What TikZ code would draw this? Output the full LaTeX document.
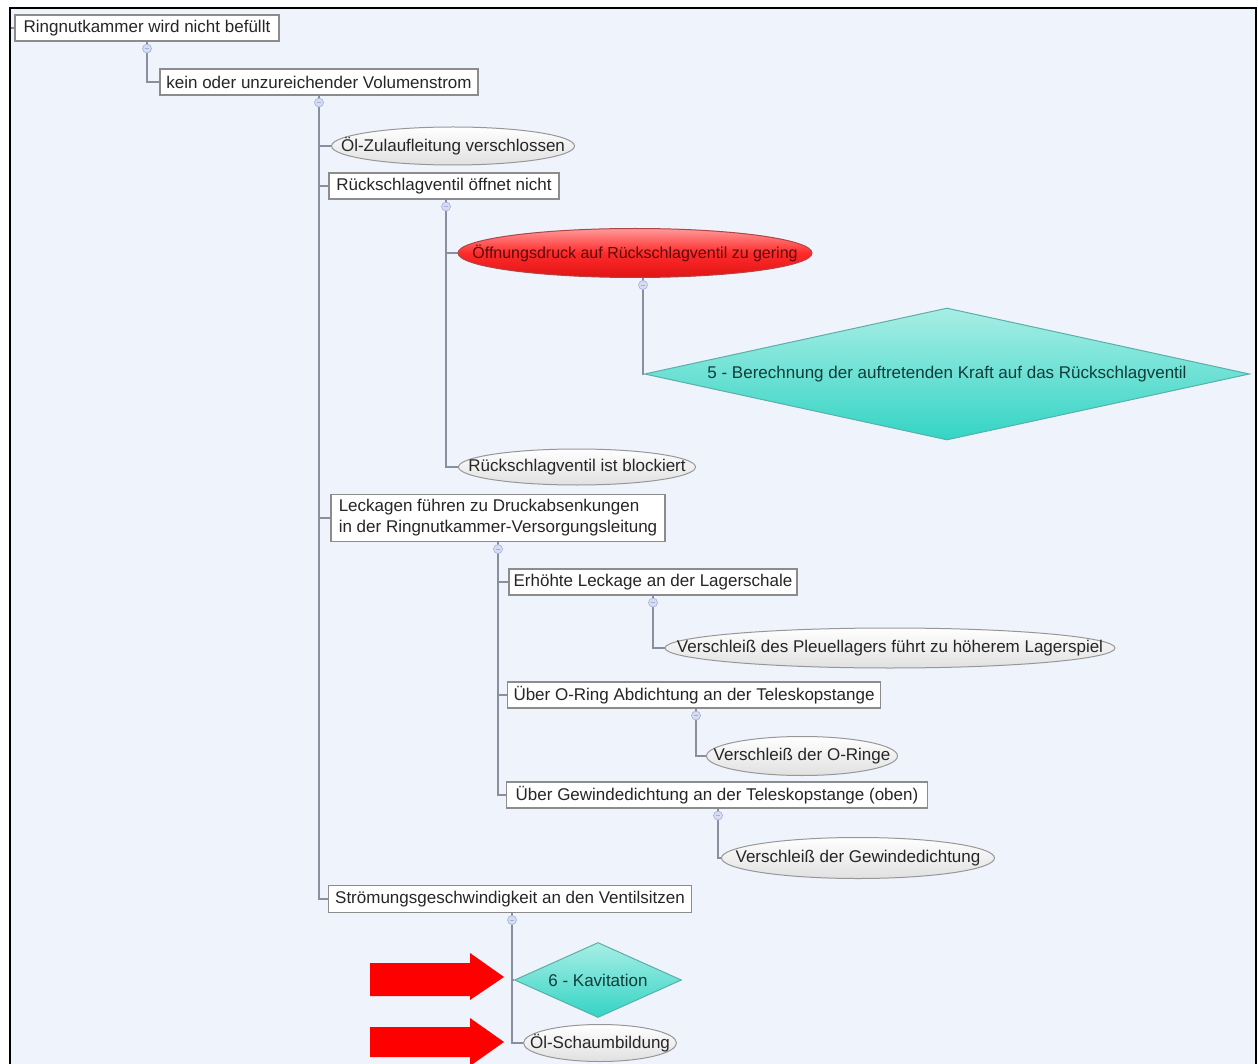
\documentclass[tikz,border=0pt]{standalone}
\usepackage{fontspec}
\setmainfont{Liberation Sans}
\usetikzlibrary{shapes.geometric}
\pgfdeclarelayer{bglayer}
\pgfdeclarelayer{connlayer}
\pgfsetlayers{bglayer,connlayer,main}
\definecolor{bgblue}{HTML}{EFF3FC}
\definecolor{lineg}{HTML}{8A8FA0}
\definecolor{boxg}{HTML}{8C8C8C}
\definecolor{btnfill}{HTML}{D6DDF2}
\definecolor{btndraw}{HTML}{A4B0D6}
\definecolor{turqtop}{HTML}{A8EEE5}
\definecolor{turqbot}{HTML}{33D4C4}
\definecolor{turqdraw}{HTML}{5AAFA8}
\definecolor{redtop}{HTML}{FF9A9A}
\definecolor{redmid}{HTML}{FF2A2A}
\definecolor{redbot}{HTML}{E01515}
\definecolor{reddraw}{HTML}{B04545}
\definecolor{redtext}{HTML}{5A0A0A}
\definecolor{turqtext}{HTML}{123C3A}
\definecolor{arrred}{HTML}{FF0000}
\tikzset{
  every node/.style={font=\fontsize{17}{21}\selectfont, text=black!85},
  rectbox/.style={draw=boxg, line width=1.2pt, fill=white, rectangle, inner sep=3pt, align=left},
  ellbox/.style={draw=boxg!90, line width=1pt, ellipse, inner sep=0pt, top color=white, bottom color=black!12},
  redell/.style={draw=reddraw, line width=1pt, ellipse, inner sep=0pt, top color=redtop, bottom color=redbot, middle color=redmid, text=redtext, font=\fontsize{16}{19}\selectfont},
  turqdia/.style={draw=turqdraw, line width=1pt, diamond, inner sep=0pt, top color=turqtop, bottom color=turqbot, text=turqtext},
  conn/.style={draw=lineg, line width=1.4pt},
  btn/.style={circle, draw=btndraw, fill=btnfill, line width=0.6pt, minimum size=9pt, inner sep=0pt},
  redarrow/.style={fill=arrred, draw=none}
}
\newcommand{\zw}[1]{\makebox[0pt]{#1}}
\begin{document}
\begin{tikzpicture}[x=1pt,y=-1pt]
\useasboundingbox (0,0) rectangle (1258,1064);
\begin{pgfonlayer}{bglayer}
\fill[white] (0,0) rectangle (1258,1064);
\fill[bgblue] (10,8) rectangle (1256,1068);
\draw[black, line width=2.6pt] (10,1070) -- (10,8) -- (1256,8) -- (1256,1070);
\end{pgfonlayer}

% nodes
\node[rectbox, minimum width=264, minimum height=26] (n1) at (147,28) {Ringnutkammer wird nicht befüllt};
\node[rectbox, minimum width=318, minimum height=26] (n2) at (319,82) {kein oder unzureichender Volumenstrom};
\node[ellbox, minimum width=243, minimum height=38] (n3) at (453,146) {\zw{Öl-Zulaufleitung verschlossen}};
\node[rectbox, minimum width=230, minimum height=26] (n4) at (444,186) {Rückschlagventil öffnet nicht};
\node[redell, minimum width=354, minimum height=49] (n5) at (635,253) {\zw{Öffnungsdruck auf Rückschlagventil zu gering}};
\node[turqdia, minimum width=605, minimum height=132] (n6) at (947,374) {\zw{5 - Berechnung der auftretenden Kraft auf das Rückschlagventil}};
\node[ellbox, minimum width=237, minimum height=36] (n7) at (577,467) {\zw{Rückschlagventil ist blockiert}};
\node[rectbox, minimum width=334, minimum height=47] (n8) at (498,518) {Leckagen führen zu Druckabsenkungen\\in der Ringnutkammer-Versorgungsleitung};
\node[rectbox, minimum width=288, minimum height=26] (n9) at (653,582) {Erhöhte Leckage an der Lagerschale};
\node[ellbox, minimum width=450, minimum height=40] (n10) at (890,648) {\zw{Verschleiß des Pleuellagers führt zu höherem Lagerspiel}};
\node[rectbox, minimum width=373, minimum height=26] (n11) at (694,695) {Über O-Ring Abdichtung an der Teleskopstange};
\node[ellbox, minimum width=191, minimum height=39] (n12) at (802,756) {\zw{Verschleiß der O-Ringe}};
\node[rectbox, minimum width=421, minimum height=26] (n13) at (717,795) {Über Gewindedichtung an der Teleskopstange (oben)};
\node[ellbox, minimum width=273, minimum height=41] (n14) at (858,858) {\zw{Verschleiß der Gewindedichtung}};
\node[rectbox, minimum width=363, minimum height=27] (n15) at (510,899) {Strömungsgeschwindigkeit an den Ventilsitzen};
\node[turqdia, minimum width=167, minimum height=75] (n16) at (598,980) {\zw{6 - Kavitation}};
\node[ellbox, minimum width=153, minimum height=37] (n17) at (600,1043) {\zw{Öl-Schaumbildung}};

% connectors
\coordinate (stub) at (11,28);
\begin{pgfonlayer}{connlayer}
\draw[conn] (stub) -- (n1.west);
\draw[conn] (n1.south) |- (n2.west);
\draw[conn] (n2.south) |- (n3.west);
\draw[conn] (n2.south) |- (n4.west);
\draw[conn] (n2.south) |- (n8.west);
\draw[conn] (n2.south) |- (n15.west);
\draw[conn] ([xshift=2pt]n4.south) |- (n5.west);
\draw[conn] ([xshift=2pt]n4.south) |- (n7.west);
\draw[conn] ([xshift=8pt]n5.south) |- (n6.west);
\draw[conn] (n8.south) |- (n9.west);
\draw[conn] (n8.south) |- (n11.west);
\draw[conn] (n8.south) |- (n13.west);
\draw[conn] (n9.south) |- (n10.west);
\draw[conn] ([xshift=2pt]n11.south) |- (n12.west);
\draw[conn] ([xshift=1pt]n13.south) |- (n14.west);
\draw[conn] ([xshift=2pt]n15.south) |- (n16.west);
\draw[conn] ([xshift=2pt]n15.south) |- (n17.west);
\end{pgfonlayer}

% collapse buttons
\foreach \p/\dx in {n1/0,n2/0,n4/2,n5/8,n8/0,n9/0,n11/2,n13/1,n15/2}{
  \node[btn] (b\p) at ([xshift=\dx pt, yshift=-7pt]\p.south) {};
  \draw[btndraw, line width=0.8pt] ([xshift=-2.4pt]b\p.center) -- ([xshift=2.4pt]b\p.center);
}

% red arrows
\fill[redarrow] (370,963) -- (470,963) -- (470,953) -- (504,977) -- (470,1000) -- (470,996) -- (370,996) -- cycle;
\fill[redarrow] (370,1027) -- (470,1027) -- (470,1018) -- (504,1042) -- (470,1066) -- (470,1057) -- (370,1057) -- cycle;
\end{tikzpicture}
\end{document}
